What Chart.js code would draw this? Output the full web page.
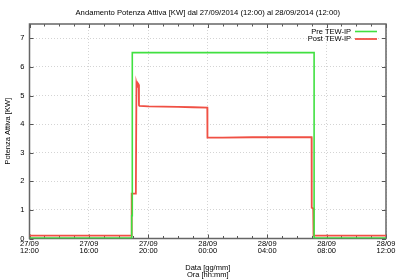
<!DOCTYPE html>
<html>
<head>
<meta charset="utf-8">
<script src="https://cdn.jsdelivr.net/npm/chart.js@4"></script>
<style>
  html, body { margin: 0; padding: 0; background: #fff; }
  #wrap { width: 400px; height: 280px; }
</style>
</head>
<body>
<div id="wrap"><canvas id="c" width="400" height="280"></canvas></div>
<script>
// ---- data (x = hours since 27/09/2014 12:00) ----
const titleText = 'Andamento Potenza Attiva [KW] dal 27/09/2014 (12:00) al 28/09/2014 (12:00)';
const seriesNames = ['Pre TEW-IP', 'Post TEW-IP'];

const preHours  = [0, 6.88, 6.88, 6.92, 6.92, 19.16, 19.16, 24];
const preValues = [0.02, 0.02, 0.8, 0.8, 6.5, 6.5, 0.02, 0.02];

const postHours  = [0, 6.87, 6.88, 7.16, 7.2, 7.25, 7.3, 7.35, 7.37, 7.4, 8, 9, 10, 11, 11.97, 11.98, 13, 15, 17, 18.99, 19.0, 19.1, 19.12, 24];
const postValues = [0.1, 0.1, 1.57, 1.57, 5.42, 5.3, 5.42, 5.38, 4.66, 4.64, 4.62, 4.61, 4.6, 4.59, 4.58, 3.53, 3.53, 3.54, 3.54, 3.54, 1.08, 1.05, 0.1, 0.1];

const tickDates = ['27/09', '27/09', '27/09', '28/09', '28/09', '28/09', '28/09'];
const tickTimes = ['12:00', '16:00', '20:00', '00:00', '04:00', '08:00', '12:00'];

const xMin = 0, xMax = 24, xStep = 4, xMinorStep = 1;
const yMin = 0, yMax = 7.5, yStep = 1;

const FONT = "'Liberation Sans', Arial, sans-serif";

function toPts(xs, ys) { return xs.map((v, i) => ({ x: v, y: ys[i] })); }

const framePlugin = {
  id: 'frame',
  beforeDatasetsDraw(chart) {
    const { ctx, chartArea: a, scales: { x, y } } = chart;
    ctx.save();
    ctx.strokeStyle = '#555';
    ctx.lineWidth = 1;
    ctx.beginPath();
    for (let h = xMin; h <= xMax + 1e-9; h += xMinorStep) {
      const px = Math.round(x.getPixelForValue(h)) + 0.5;
      const len = (Math.abs(h % xStep) < 1e-9) ? 4 : 2.5;
      ctx.moveTo(px, a.bottom); ctx.lineTo(px, a.bottom - len);
      ctx.moveTo(px, a.top); ctx.lineTo(px, a.top + len);
    }
    for (let v = yMin; v <= yMax + 1e-9; v += yStep) {
      const py = Math.round(y.getPixelForValue(v)) + 0.5;
      ctx.moveTo(a.left, py); ctx.lineTo(a.left + 4, py);
      ctx.moveTo(a.right, py); ctx.lineTo(a.right - 4, py);
    }
    ctx.stroke();
    ctx.lineWidth = 1.5;
    ctx.strokeStyle = '#666';
    ctx.strokeRect(a.left, a.top, a.width, a.height);
    ctx.restore();
  },
  afterDatasetsDraw(chart) {
    const { ctx, chartArea: a } = chart;
    ctx.save();
    // title, centred over the plot area
    ctx.font = '7.7px ' + FONT;
    ctx.fillStyle = '#000';
    ctx.textAlign = 'center';
    ctx.textBaseline = 'middle';
    ctx.fillText(titleText, (a.left + a.right) / 2, 13);
    // legend
    ctx.font = '7.5px ' + FONT;
    ctx.textAlign = 'right';
    const rows = [31.5, 39];
    chart.data.datasets.forEach((ds, i) => {
      ctx.fillStyle = '#000';
      ctx.fillText(ds.label, a.right - 35, rows[i]);
      ctx.strokeStyle = ds.borderColor;
      ctx.lineWidth = ds.borderWidth;
      ctx.beginPath();
      ctx.moveTo(a.right - 31, rows[i]);
      ctx.lineTo(a.right - 9, rows[i]);
      ctx.stroke();
    });
    ctx.restore();
  }
};

new Chart(document.getElementById('c'), {
  type: 'line',
  plugins: [framePlugin],
  data: {
    datasets: [
      { label: seriesNames[0], data: toPts(preHours, preValues), borderColor: 'rgb(64,224,64)', borderWidth: 1.6, pointRadius: 0, tension: 0, fill: false },
      { label: seriesNames[1], data: toPts(postHours, postValues), borderColor: 'rgb(240,80,68)', borderWidth: 1.8, pointRadius: 0, tension: 0, fill: false }
    ]
  },
  options: {
    responsive: false,
    animation: false,
    layout: { padding: { left: 0, right: 14, top: 24, bottom: 0 } },
    plugins: {
      legend: { display: false },
      tooltip: { enabled: false },
      title: { display: false }
    },
    scales: {
      x: {
        type: 'linear',
        min: xMin, max: xMax,
        ticks: {
          stepSize: xStep,
          color: '#000',
          padding: 2,
          maxRotation: 0,
          autoSkip: false,
          font: { family: FONT, size: 7.5, lineHeight: '7px' },
          callback: (v) => {
            const i = Math.round((v - xMin) / xStep);
            return [tickDates[i], tickTimes[i]];
          }
        },
        grid: { color: '#d4d4d4', lineWidth: 1, drawTicks: false },
        border: { display: false, dash: [1, 2] },
        title: {
          display: true,
          text: ['Data [gg/mm]', 'Ora [hh:mm]'],
          color: '#000',
          font: { family: FONT, size: 7.5, lineHeight: '6.5px' },
          padding: { top: 2, bottom: 2 }
        },
        afterFit: (s) => { s.height = 41.5; }
      },
      y: {
        type: 'linear',
        min: yMin, max: yMax,
        afterBuildTicks: (s) => { s.ticks = s.ticks.filter(t => Math.abs(t.value - Math.round(t.value)) < 1e-9); },
        ticks: {
          stepSize: yStep,
          color: '#000',
          padding: 5,
          font: { family: FONT, size: 7.5 }
        },
        grid: { color: '#d4d4d4', lineWidth: 1, drawTicks: false },
        border: { display: false, dash: [1, 2] },
        title: {
          display: true,
          text: 'Potenza Attiva [KW]',
          color: '#000',
          font: { family: FONT, size: 7.5, lineHeight: '9px' },
          padding: { top: 3, bottom: 0 }
        },
        afterFit: (s) => { s.width = 29.5; }
      }
    }
  }
});
</script>
</body>
</html>
